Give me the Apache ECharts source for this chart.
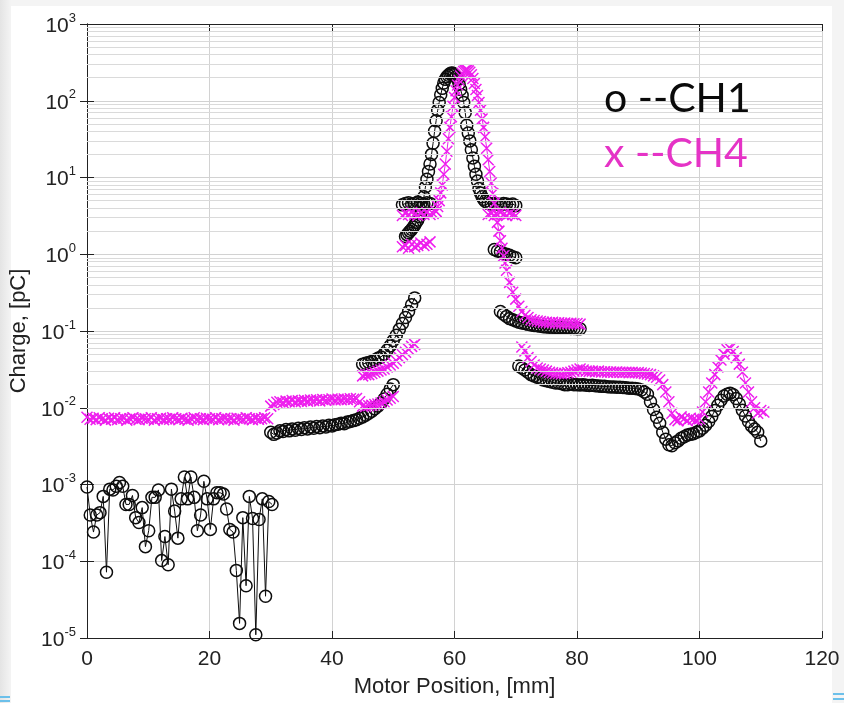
<!DOCTYPE html>
<html>
<head>
<meta charset="utf-8">
<script src="https://cdn.jsdelivr.net/npm/echarts@6/dist/echarts.min.js"></script>
<style>
html,body{margin:0;padding:0;width:844px;height:703px;overflow:hidden;background:linear-gradient(90deg,#e4e4e4 0px,#f4f4f4 11px,#f4f4f4 100%);}
#panel{position:absolute;left:11px;top:6px;width:821px;height:697px;background:#fff;}
#chart{position:absolute;left:0;top:0;width:844px;height:703px;}
.bl{position:absolute;height:2px;background:#6cc0ea;}
</style>
</head>
<body>
<div id="panel"></div>
<div class="bl" style="left:0;top:696px;width:10px;"></div>
<div class="bl" style="left:0;top:700px;width:10px;"></div>
<div class="bl" style="left:833px;top:693px;width:11px;"></div>
<div class="bl" style="left:833px;top:698px;width:11px;"></div>
<div id="chart"></div>
<script>
// ---------- data ----------
const xTicks = [0, 20, 40, 60, 80, 100, 120];
const yDecades = [1e-5, 1e-4, 1e-3, 1e-2, 1e-1, 1, 10, 100, 1000];
const legendCH1 = 'o --CH1';
const legendCH4 = 'x --CH4';
const xName = 'Motor Position, [mm]';
const yName = 'Charge, [pC]';

// CH1 (circles) — segments: start position [mm], step [mm], values [pC]
const ch1NoiseStart = 0, ch1NoiseStep = 0.53;
const ch1Noise = [9.3e-4,4e-4,2.4e-4,4e-4,4.3e-4,7e-4,7.2e-5,8.7e-4,8.5e-4,9.5e-4,1.06e-3,9.5e-4,5.5e-4,5.5e-4,7.2e-4,3.7e-4,3.2e-4,5e-4,1.55e-4,2.5e-4,6.8e-4,6.8e-4,8.5e-4,1.02e-4,2.1e-4,9e-5,8.7e-4,4.5e-4,2e-4,6.5e-4,1.25e-3,6.5e-4,1.25e-3,6.8e-4,2.5e-4,4e-4,1.1e-3,6.5e-4,2.6e-4,6.5e-4,7.8e-4,7.8e-4,7.5e-4,4.8e-4,2.6e-4,2.4e-4,7.6e-5,1.55e-5,3.7e-4,4.8e-5,7e-4,3.6e-4,1.1e-5,3.5e-4,6.5e-4,3.5e-5,6e-4,5.5e-4];
const ch1SegBStart = 30;
const ch1SegB = [0.0048,0.0045,0.0047,0.005,0.0049,0.0052,0.005,0.0053,0.0051,0.0054,0.0052,0.0055,0.0053,0.0056,0.0054,0.0057,0.0055,0.0058,0.0056,0.0059,0.0058,0.006,0.0061,0.0063,0.0062,0.0065,0.0066,0.0068,0.007,0.0073,0.0076,0.008,0.0085,0.009,0.0097,0.0105,0.0115,0.013,0.015,0.0175,0.02];
const ch1SegCStart = 45;
const ch1SegC = [0.037,0.038,0.039,0.04,0.042,0.044,0.046,0.05,0.056,0.064,0.075,0.088,0.105,0.125,0.15,0.18,0.22,0.27];
const ch1FlatLStart = 51.5;
const ch1FlatL = [4.4,4.6,4.7,4.5,4.6,4.8,4.6,4.5,4.7,4.6];
const ch1PeakStart = 52, ch1PeakStep = 0.25;
const ch1Peak = [1.7,1.8,1.9,2.0,2.1,2.25,2.4,2.6,2.8,3.1,3.4,4.2,5.6,7.5,9.5,12,15,20,28,40,55,75,95,120,145,170,190,205,215,225,230,228,220,205,190,165,140,118,95,70,48,38,30,23,18,14,11,9,7.2,6.3,5.6,5.2,4.9];
const ch1FlatRStart = 65.5;
const ch1FlatR = [4.6,4.5,4.6,4.5,4.4,4.6,4.5,4.4,4.5,4.3];
const ch1SegEStart = 66.5;
const ch1SegE = [1.15,1.1,1.08,1.02,1.0,0.97,0.93,0.9];
const ch1SegFStart = 67.5;
const ch1SegF = [0.18,0.165,0.155,0.145,0.14,0.135,0.13,0.127,0.125,0.122,0.12,0.118,0.117,0.115,0.114,0.113,0.112,0.112,0.111,0.11,0.11,0.109,0.109,0.108,0.108,0.107,0.107];
const ch1SegGStart = 70.5;
const ch1SegG = [0.035,0.033,0.031,0.029,0.027,0.026,0.025,0.024,0.023,0.0225,0.022,0.0215,0.021,0.021,0.0205,0.02,0.02,0.0205,0.02,0.02,0.0198,0.02,0.0197,0.0195,0.0196,0.0193,0.0192,0.019,0.019,0.0188,0.0187,0.0186,0.0185,0.0185,0.0184,0.0182,0.018,0.018,0.0178,0.0175,0.017,0.016,0.015,0.012,0.0095,0.0075,0.0063,0.0048,0.0039,0.0033,0.0032,0.0035,0.0037,0.004,0.0042,0.0044,0.0045,0.0046,0.0048,0.005,0.0054,0.0059,0.0066,0.0077,0.0092,0.0108,0.0125,0.0142,0.015,0.0155,0.0148,0.0132,0.0112,0.0093,0.0078,0.0066,0.0058,0.0053,0.0048,0.0037];

// CH4 (crosses)
const ch4Flat0Start = 0;
const ch4Flat0 = [0.0075,0.0071,0.0073,0.007,0.0074,0.0072,0.0069,0.0073,0.0071,0.0074,0.007,0.0072,0.0073,0.0069,0.0072,0.0074,0.0071,0.007,0.0073,0.0072,0.0071,0.0074,0.0069,0.0072,0.0073,0.007,0.0072,0.0071,0.0074,0.0072,0.007,0.0073,0.0071,0.0069,0.0072,0.0074,0.0071,0.0072,0.007,0.0073,0.0072,0.0071,0.0074,0.007,0.0072,0.0073,0.0071,0.0072,0.0069,0.0073,0.0072,0.0071,0.0074,0.0072,0.007,0.0073,0.0071,0.0072,0.0074,0.0072];
const ch4SegBStart = 30;
const ch4SegB = [0.0105,0.011,0.0118,0.012,0.0117,0.0122,0.012,0.0124,0.0119,0.0123,0.0121,0.0125,0.0122,0.0126,0.0124,0.0127,0.0123,0.0128,0.0125,0.0127,0.013,0.0126,0.0129,0.0127,0.013,0.0128,0.0131,0.0129,0.0132,0.012,0.0105,0.0104,0.0106,0.0108,0.011,0.0112,0.0115,0.012,0.0126,0.0133,0.014];
const ch4SegCStart = 45;
const ch4SegC = [0.026,0.027,0.027,0.028,0.029,0.03,0.031,0.032,0.034,0.036,0.038,0.041,0.045,0.049,0.053,0.058,0.063,0.067];
const ch4FlatHiStart = 51.5;
const ch4FlatHi = [3.2,3.4,3.3,3.5,3.3,3.2,3.4,3.3,3.5,3.3,3.4,3.6];
const ch4FlatLoStart = 51.5;
const ch4FlatLo = [1.25,1.3,1.2,1.35,1.25,1.3,1.4,1.3,1.35,1.45];
const ch4PeakStart = 57, ch4PeakStep = 0.25;
const ch4Peak = [3.6,4.2,5,6.3,8,11,15,22,32,45,62,85,110,135,160,185,210,228,240,247,250,245,235,218,195,168,140,117,95,75,58,45,34,24,17,12,8.5,6.2,4.6,3.4,2.6,2.0,1.5,1.2,0.95,0.77,0.62];
const ch4TailStart = 69;
const ch4Tail = [0.43,0.32,0.26,0.21,0.18,0.16,0.15,0.14,0.137,0.135,0.133,0.13,0.13,0.128,0.13,0.127,0.128,0.126,0.127,0.125,0.126,0.124,0.125,0.123];
const ch4FlatRStart = 65.5;
const ch4FlatR = [3.3,3.4,3.2,3.3,3.5,3.3,3.2,3.4,3.3,3.2];
const ch4SegGStart = 71;
const ch4SegG = [0.062,0.055,0.045,0.04,0.036,0.033,0.032,0.031,0.03,0.029,0.0285,0.028,0.028,0.0278,0.028,0.0285,0.029,0.03,0.031,0.032,0.031,0.03,0.0298,0.03,0.0295,0.03,0.0293,0.0295,0.029,0.0292,0.029,0.0293,0.029,0.0288,0.029,0.0287,0.0289,0.0285,0.0287,0.0283,0.028,0.0275,0.027,0.026,0.025,0.023,0.02,0.016,0.012,0.0085,0.007,0.0068,0.0076,0.0072,0.0068,0.0073,0.0071,0.0069,0.0072,0.0088,0.012,0.016,0.021,0.027,0.034,0.042,0.05,0.057,0.059,0.054,0.045,0.037,0.029,0.021,0.016,0.012,0.01,0.0085,0.0092,0.0088];

// ---------- build ----------
function seg(start, step, vals) {
  return vals.map((v, i) => [Math.round((start + i * step) * 1000) / 1000, v]);
}
const STEP = 0.5;
const ch1Segs = [
  seg(ch1NoiseStart, ch1NoiseStep, ch1Noise),
  seg(ch1SegBStart, STEP, ch1SegB),
  seg(ch1SegCStart, STEP, ch1SegC),
  seg(ch1FlatLStart, STEP, ch1FlatL),
  seg(ch1PeakStart, ch1PeakStep, ch1Peak).concat(seg(ch1FlatRStart, STEP, ch1FlatR)),
  seg(ch1SegEStart, STEP, ch1SegE),
  seg(ch1SegFStart, STEP, ch1SegF),
  seg(ch1SegGStart, STEP, ch1SegG)
];
const ch4Segs = [
  seg(ch4Flat0Start, STEP, ch4Flat0),
  seg(ch4SegBStart, STEP, ch4SegB),
  seg(ch4SegCStart, STEP, ch4SegC),
  seg(ch4FlatHiStart, STEP, ch4FlatHi),
  seg(ch4FlatLoStart, STEP, ch4FlatLo),
  seg(ch4PeakStart, ch4PeakStep, ch4Peak).concat(seg(ch4TailStart, STEP, ch4Tail)),
  seg(ch4FlatRStart, STEP, ch4FlatR),
  seg(ch4SegGStart, STEP, ch4SegG)
];

const BLACK = '#0d0d0d';
const MAG = '#ee1eee';
const FONT = '"Liberation Sans", Arial, Helvetica, sans-serif';

// minor grid lines 2..9 per decade
const minorLines = [];
yDecades.slice(0, -1).forEach(d => {
  for (let k = 2; k <= 9; k++) minorLines.push({ yAxis: d * k });
});

const series = [];
series.push({
  type: 'line', data: [], silent: true,
  markLine: {
    silent: true, symbol: ['none', 'none'], label: { show: false },
    lineStyle: { color: '#dadada', width: 1, type: 'solid' },
    data: minorLines
  }
});
ch1Segs.forEach(d => series.push({
  type: 'line', data: d, silent: true, z: 3,
  symbol: 'circle', symbolSize: 12, showAllSymbol: true,
  itemStyle: { color: 'rgba(0,0,0,0)', borderColor: BLACK, borderWidth: 1.5 },
  lineStyle: { color: BLACK, width: 1 }
}));
ch4Segs.forEach(d => series.push({
  type: 'line', data: d, silent: true, z: 4,
  symbol: 'path://M0,0L10,10M10,0L0,10', symbolSize: 11, showAllSymbol: true,
  itemStyle: { color: 'rgba(0,0,0,0)', borderColor: MAG, borderWidth: 1.5 },
  lineStyle: { color: MAG, width: 1 }
}));

const chart = echarts.init(document.getElementById('chart'), null, { renderer: 'canvas', width: 844, height: 703 });
chart.setOption({
  animation: false,
  backgroundColor: 'transparent',
  grid: { left: 87, right: 22, top: 24, bottom: 62, containLabel: false },
  xAxis: [{
    type: 'value', min: xTicks[0], max: xTicks[xTicks.length - 1], interval: 20,
    name: xName, nameLocation: 'middle', nameGap: 38,
    nameTextStyle: { fontSize: 22, fontFamily: FONT, color: '#222' },
    axisLine: { show: true, lineStyle: { color: '#222', width: 1 } },
    axisTick: { show: true, inside: true, length: 7, lineStyle: { color: '#222' } },
    axisLabel: { fontSize: 21, fontFamily: FONT, color: '#222', margin: 11 },
    splitLine: { show: true, lineStyle: { color: '#d2d2d2', width: 1 } }
  }, {
    type: 'value', position: 'top', min: xTicks[0], max: xTicks[xTicks.length - 1], interval: 20,
    axisLine: { show: true, onZero: false, lineStyle: { color: '#222', width: 1 } },
    axisTick: { show: true, inside: true, length: 7, lineStyle: { color: '#222' } },
    axisLabel: { show: false }, splitLine: { show: false }
  }],
  yAxis: [{
    type: 'log', logBase: 10, min: yDecades[0], max: yDecades[yDecades.length - 1], splitNumber: 8,
    name: yName, nameLocation: 'middle', nameGap: 57,
    nameTextStyle: { fontSize: 22, fontFamily: FONT, color: '#222' },
    axisLine: { show: true, lineStyle: { color: '#222', width: 1 } },
    axisTick: { show: true, inside: true, length: 7, lineStyle: { color: '#222' } },
    axisLabel: {
      margin: 11,
      formatter: v => '{b|10}{s|' + Math.round(Math.log10(v)) + '}',
      rich: {
        b: { fontSize: 21, fontFamily: FONT, color: '#222', verticalAlign: 'bottom' },
        s: { fontSize: 13, fontFamily: FONT, color: '#222', verticalAlign: 'bottom', padding: [0, 0, 12, 0] }
      }
    },
    splitLine: { show: true, lineStyle: { color: '#d2d2d2', width: 1 } }
  }, {
    type: 'log', logBase: 10, position: 'right', min: yDecades[0], max: yDecades[yDecades.length - 1], splitNumber: 8,
    axisLine: { show: true, lineStyle: { color: '#222', width: 1 } },
    axisTick: { show: true, inside: true, length: 7, lineStyle: { color: '#222' } },
    axisLabel: { show: false }, splitLine: { show: false }
  }],
  graphic: [
    { type: 'text', left: 604, top: 78, z: 10, silent: true,
      style: { text: legendCH1, fill: '#0a0a0a', font: '400 41px Lato, "Open Sans", sans-serif' } },
    { type: 'text', left: 604, top: 133, z: 10, silent: true,
      style: { text: legendCH4, fill: '#e533c6', font: '400 41px Lato, "Open Sans", sans-serif' } }
  ],
  series: series
});
</script>
</body>
</html>
